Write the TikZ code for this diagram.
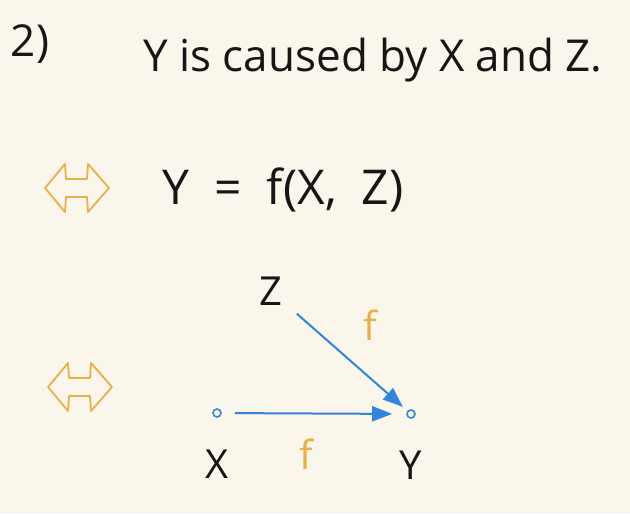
\documentclass[tikz,border=0pt]{standalone}
\usepackage{fontspec}
\setmainfont{Open Sans}
\usetikzlibrary{arrows.meta, positioning}
\definecolor{paper}{RGB}{250,246,236}
\definecolor{ink}{RGB}{22,22,22}
\definecolor{handorange}{RGB}{232,176,72}
\definecolor{handblue}{RGB}{52,132,218}

\begin{document}
\begin{tikzpicture}[
    x=0.5pt, y=-0.5pt,
    % Text styles
    title/.style={text=ink, font=\fontsize{22}{26}\selectfont},
    var/.style={text=ink, font=\fontsize{20}{24}\selectfont, inner sep=1pt},
    fn/.style={text=handorange, font=\fontsize{20}{24}\selectfont, inner sep=1pt},
    % Graph parts
    dot/.style={circle, draw=handblue, line width=0.8pt, minimum size=4pt, inner sep=0pt},
    causal/.style={draw=handblue, line width=1pt, -{Triangle[length=10pt,width=7.5pt]}},
    % Hollow double arrow for "equivalent to"
    equiv/.pic={\draw[handorange, line width=0.9pt, line join=round]
        (-32,0) -- (-12,-24) -- (-11,-9) -- (10,-9) -- (11,-24) -- (32,0)
        -- (11,24) -- (10,9) -- (-11,9) -- (-12,24) -- cycle;}
]
\fill[paper] (0,0) rectangle (630,514);
\useasboundingbox (0,0) rectangle (630,514);

% ===============================
% Statement
% ===============================
\node[title] (num) at (30,44) {2)};
\node[title] (stmt) at (373,60) {Y is caused by X and Z.};

% ===============================
% Equation form
% ===============================
\pic (eqa) at (77,188) {equiv};
\node[title, font=\fontsize{24}{28}\selectfont] (eqn) at (283,190) {Y~~=~~f(X,~~Z)};

% ===============================
% Graph form
% ===============================
\pic (eqb) at (80,387) {equiv};

% Nodes
\node[var] (zlab) at (271,291) {Z};
\node[dot] (xdot) at (217,413) {};
\node[dot] (ydot) at (411,414) {};
\node[var, below=15pt of xdot] (xlab) {X};
\node[var, below=15pt of ydot] (ylab) {Y};

% Edges
\draw[causal, shorten <=6.5pt, shorten >=7pt] (xdot) -- (ydot)
    node[fn, midway, below=11pt, xshift=-4pt] (fx) {f};
\draw[causal, shorten <=8pt, shorten >=3pt] (zlab) -- (ydot)
    node[fn, midway, xshift=12pt, yshift=16pt] (fz) {f};

\end{tikzpicture}
\end{document}
